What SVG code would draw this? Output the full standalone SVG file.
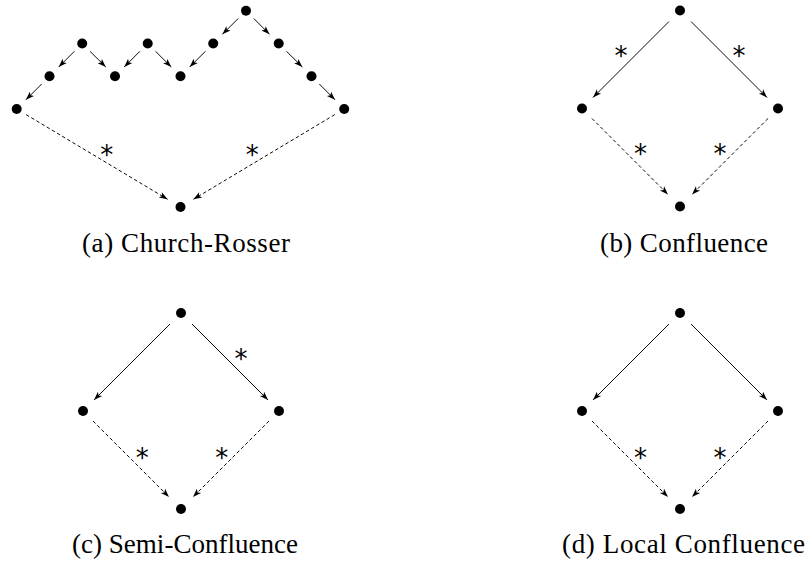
<svg xmlns="http://www.w3.org/2000/svg" width="807" height="569" viewBox="0 0 807 569">
<defs>
<marker id="ah" markerUnits="userSpaceOnUse" markerWidth="12" markerHeight="10" viewBox="-10 -5 12 10" refX="0" refY="0" orient="auto">
<path d="M0,0 L-8.5,-3 L-6.5,0 L-8.5,3 Z" fill="#000"/>
</marker>
</defs>
<style>
.n{fill:#000}
.e{stroke:#000;stroke-width:0.95;fill:none;marker-end:url(#ah)}
.d{stroke-dasharray:3.5 2.5}
.s{font-family:"DejaVu Sans",sans-serif;font-size:26px;fill:#000;text-anchor:middle}
.c{font-family:"Liberation Serif",serif;font-size:27px;fill:#000}
</style>
<rect width="807" height="569" fill="#fff"/>
<g id="connectors">
<line class="e" x1="238.2" y1="18.5" x2="222.4" y2="34.3"/>
<line class="e" x1="253.8" y1="18.5" x2="269.5" y2="34.3"/>
<line class="e" x1="286.5" y1="51.3" x2="302.3" y2="67"/>
<line class="e" x1="319.3" y1="84" x2="335" y2="99.8"/>
<line class="e" x1="205.4" y1="51.3" x2="189.7" y2="67"/>
<line class="e" x1="155.5" y1="51.3" x2="171.3" y2="67"/>
<line class="e" x1="139.9" y1="51.3" x2="124.2" y2="67"/>
<line class="e" x1="90" y1="51.3" x2="105.8" y2="67"/>
<line class="e" x1="74.4" y1="51.3" x2="58.7" y2="67"/>
<line class="e" x1="41.7" y1="84" x2="25.9" y2="99.8"/>
<line class="e d" x1="26.1" y1="114.6" x2="167.6" y2="199.3"/>
<line class="e d" x1="334.8" y1="114.6" x2="193.4" y2="199.3"/>

<line class="e" x1="669" y1="21.5" x2="593" y2="97.5"/>
<line class="e" x1="691" y1="21.5" x2="767" y2="97.5"/>
<line class="e d" x1="592" y1="118.5" x2="668" y2="194.5"/>
<line class="e d" x1="768" y1="118.5" x2="692" y2="194.5"/>

<line class="e" x1="170" y1="324" x2="94" y2="400"/>
<line class="e" x1="192" y1="324" x2="268" y2="400"/>
<line class="e d" x1="93" y1="421" x2="169" y2="497"/>
<line class="e d" x1="269" y1="421" x2="193" y2="497"/>

<line class="e" x1="669" y1="324" x2="593" y2="400"/>
<line class="e" x1="691" y1="324" x2="767" y2="400"/>
<line class="e d" x1="592" y1="421" x2="668" y2="497"/>
<line class="e d" x1="768" y1="421" x2="692" y2="497"/>
</g>
<g id="labels">
<text class="s" x="106.7" y="164">*</text>
<text class="s" x="252.3" y="164">*</text>
<text class="s" x="621" y="65">*</text>
<text class="s" x="739" y="65">*</text>
<text class="s" x="640.5" y="163">*</text>
<text class="s" x="720" y="163">*</text>
<text class="s" x="241" y="368">*</text>
<text class="s" x="142.3" y="467">*</text>
<text class="s" x="221.7" y="467">*</text>
<text class="s" x="640.5" y="467">*</text>
<text class="s" x="720" y="467">*</text>
</g>
<g id="diagram-a">
<circle id="a0" class="n" cx="246" cy="10.7" r="5"/>
<circle id="a1" class="n" cx="82.2" cy="43.5" r="5"/>
<circle id="a2" class="n" cx="147.7" cy="43.5" r="5"/>
<circle id="a3" class="n" cx="213.2" cy="43.5" r="5"/>
<circle id="a4" class="n" cx="278.7" cy="43.5" r="5"/>
<circle id="a5" class="n" cx="49.5" cy="76.2" r="5"/>
<circle id="a6" class="n" cx="115" cy="76.2" r="5"/>
<circle id="a7" class="n" cx="180.5" cy="76.2" r="5"/>
<circle id="a8" class="n" cx="311.5" cy="76.2" r="5"/>
<circle id="a9" class="n" cx="16.7" cy="109" r="5"/>
<circle id="a10" class="n" cx="344.2" cy="109" r="5"/>
<circle id="a11" class="n" cx="180.5" cy="207" r="5"/>
<text id="cap-a" class="c" x="82" y="252" textLength="208" lengthAdjust="spacing">(a) Church-Rosser</text>
</g>
<g id="diagram-b">
<circle id="b0" class="n" cx="680" cy="10.5" r="5"/>
<circle id="b1" class="n" cx="582" cy="108.5" r="5"/>
<circle id="b2" class="n" cx="778" cy="108.5" r="5"/>
<circle id="b3" class="n" cx="680" cy="206.5" r="5"/>
<text id="cap-b" class="c" x="600" y="252" textLength="168" lengthAdjust="spacing">(b) Confluence</text>
</g>
<g id="diagram-c">
<circle id="c0" class="n" cx="181" cy="313" r="5"/>
<circle id="c1" class="n" cx="83" cy="411" r="5"/>
<circle id="c2" class="n" cx="279" cy="411" r="5"/>
<circle id="c3" class="n" cx="181" cy="509" r="5"/>
<text id="cap-c" class="c" x="72" y="553" textLength="226" lengthAdjust="spacing">(c) Semi-Confluence</text>
</g>
<g id="diagram-d">
<circle id="d0" class="n" cx="680" cy="313" r="5"/>
<circle id="d1" class="n" cx="582" cy="411" r="5"/>
<circle id="d2" class="n" cx="778" cy="411" r="5"/>
<circle id="d3" class="n" cx="680" cy="509" r="5"/>
<text id="cap-d" class="c" x="562" y="553" textLength="243" lengthAdjust="spacing">(d) Local Confluence</text>
</g>
</svg>
